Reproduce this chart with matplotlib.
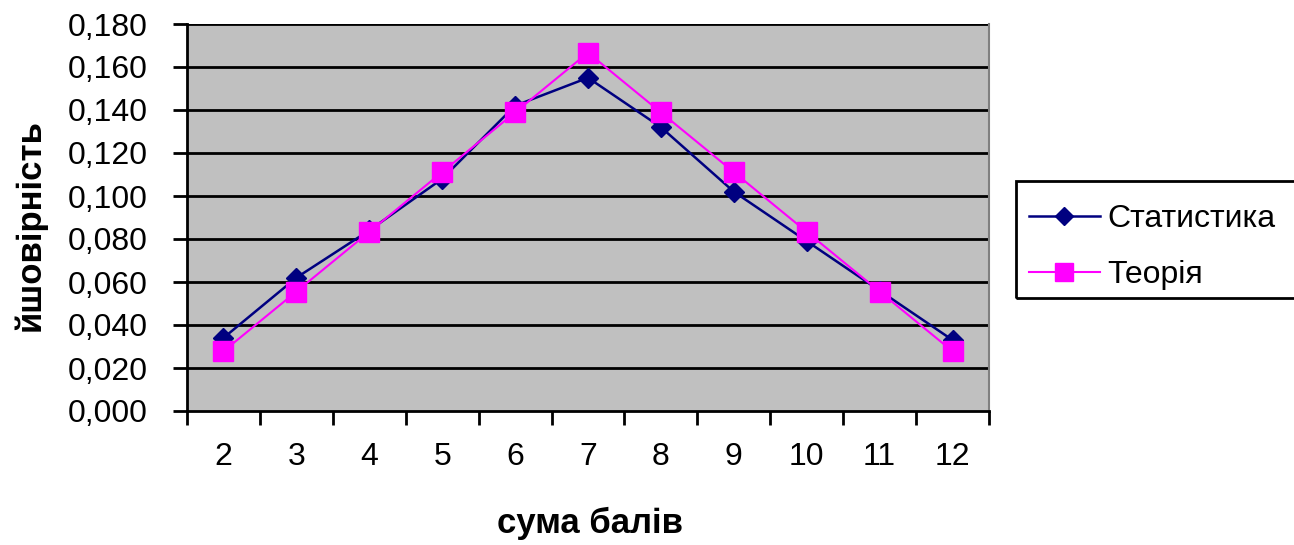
import numpy as np
import matplotlib
matplotlib.use('Agg')
import matplotlib.pyplot as plt
from matplotlib.patches import Rectangle
from matplotlib.ticker import FuncFormatter

# сума балів на двох кубиках
sums = [2, 3, 4, 5, 6, 7, 8, 9, 10, 11, 12]
statystyka = [0.034, 0.062, 0.084, 0.108, 0.142, 0.155, 0.132, 0.102, 0.079, 0.056, 0.033]
teoriya = [1/36, 2/36, 3/36, 4/36, 5/36, 6/36, 5/36, 4/36, 3/36, 2/36, 1/36]
y_ticks = np.arange(0, 0.181, 0.02)

plt.rcParams['font.family'] = ['Liberation Sans', 'DejaVu Sans']

fig = plt.figure(figsize=(12.94, 5.45), dpi=100)
ax = fig.add_axes([187/1294, 1 - 411/545, (989 - 187)/1294, (411 - 24)/545])
ax.set_facecolor('#c0c0c0')

for v in y_ticks[1:]:
    ax.axhline(v, color='black', lw=2, zorder=1)

l1, = ax.plot(sums, statystyka, color='#000080', lw=1.8, marker='D', ms=10,
              mfc='#000080', mec='#000080', zorder=3, label='Статистика')
l2, = ax.plot(sums, teoriya, color='#ff00ff', lw=1.5, marker='s', ms=14,
              mfc='#ff00ff', mec='#ff00ff', zorder=4, label='Теорія')

ax.set_xlim(1.5, 12.5)
ax.set_ylim(0, 0.18)
ax.set_xticks(sums)
ax.set_xticks(np.arange(1.5, 12.6, 1), minor=True)
ax.tick_params(axis='x', which='major', length=0, pad=22, labelsize=23)
ax.tick_params(axis='x', which='minor', length=10, width=2, direction='out')
ax.set_yticks(y_ticks)
ax.yaxis.set_major_formatter(FuncFormatter(lambda v, p: f'{v:.3f}'.replace('.', ',')))
ax.tick_params(axis='y', length=10, width=2, pad=18, labelsize=23)

ax.spines['top'].set_visible(False)
ax.spines['right'].set_color('#808080')
ax.spines['right'].set_linewidth(1.5)
ax.spines['left'].set_linewidth(2)
ax.spines['bottom'].set_linewidth(2)

fig.text(590/1294, 1 - 523/545, 'сума балів', ha='center', va='center',
         fontsize=25, fontweight='bold')
fig.text(30/1294, 1 - 225/545, 'йшовірність', ha='center', va='center',
         rotation=90, fontsize=25, fontweight='bold')

# рамка легенди
fig.patches.append(Rectangle((1016/1294, 1 - 298/545), 290/1294, 117/545,
                             transform=fig.transFigure, fill=False,
                             edgecolor='black', lw=2))
fig.legend(handles=[l1, l2], loc='center left',
           bbox_to_anchor=(1029/1294, 1 - 247/545), frameon=False,
           borderpad=0, borderaxespad=0,
           fontsize=23, handlelength=2.22, handletextpad=0.22, labelspacing=0.8,
           markerscale=0.9)

fig.savefig('out.png', dpi=100)
